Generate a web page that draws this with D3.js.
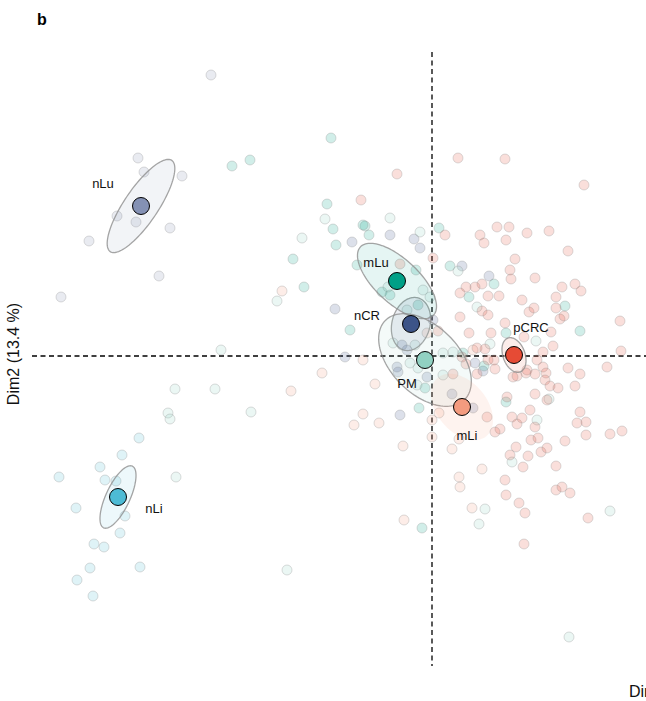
<!DOCTYPE html>
<html>
<head>
<meta charset="utf-8">
<script src="https://cdn.jsdelivr.net/npm/d3@7"></script>
<style>
  body { margin: 0; background: #fff; }
  svg { display: block; font-family: "Liberation Sans", Arial, sans-serif; }
</style>
</head>
<body>
<div id="chart"></div>
<script>
// Groups, in drawing order
var groups = ["nLu", "nCR", "mLu", "PM", "nLi", "mLi", "pCRC"];
var groupColors = ["#8491B4", "#3C5488", "#00A087", "#91D1C2", "#4DBBD5", "#F39B7F", "#E64B35"];

// Individual samples [Dim1, Dim2]
var nLuPts = [[-22.1, 28.1], [-29.4, 19.8], [-28.8, 18.4], [-25.0, 18.0], [-31.5, 14.0], [-29.6, 13.4],
  [-26.2, 12.8], [-34.3, 11.5], [-27.3, 8.0], [-37.1, 5.9]];
var nCRPts = [[-8.0, 11.4], [-4.2, 12.1], [-1.8, 11.7], [-1.2, 10.8], [-9.7, 4.7], [-3.0, 1.1], [-2.5, 0.6],
  [-3.5, -1.1], [-3.4, -1.6], [-3.2, -5.9], [0.1, 3.6], [4.3, -0.7], [4.1, -5.2], [2.0, -3.8], [-8.7, -0.1],
  [5.1, -1.5], [3.0, 9.0], [5.7, 8.0], [-0.5, -2.1]];
var mLuPts = [[-20.0, 19.0], [-18.2, 19.6], [-10.1, 21.8], [-13.9, 9.7], [-12.8, 6.9], [-10.5, 15.2], [-9.9, 12.7],
  [-6.7, 13.0], [-6.3, 12.1], [-9.6, 11.1], [0.7, 12.8], [1.8, 9.0], [6.2, 7.2], [3.7, 5.9], [13.3, 5.0],
  [14.8, 2.5], [7.4, 2.3], [-8.2, 2.6], [-7.5, 9.1], [-1.6, 8.6], [-5.0, 6.4], [-4.2, 6.1], [-1.4, 5.1],
  [3.1, 0.3], [-0.7, -3.2], [-1.3, -5.2], [7.4, -4.6], [-1.0, -17.2], [-6.9, 13.1], [5.2, -1.0]];
var pmPts = [[-13.0, 11.8], [-15.5, 5.5], [-21.1, 0.6], [-10.7, 13.7], [-4.2, 13.8], [-1.2, 12.4], [2.6, 8.5],
  [4.5, 4.9], [5.8, 1.2], [1.1, -1.9], [2.1, 0.4], [10.5, -6.4], [11.7, -4.3], [8.0, -10.6], [5.3, -15.3],
  [4.7, -16.8], [17.8, -15.5], [13.7, -28.1], [-25.7, -3.3], [-21.7, -3.3], [-26.4, -5.7], [-26.2, -6.3],
  [-18.1, -5.6], [-25.6, -12.1], [-14.5, -21.4], [-4.4, 6.9], [-0.2, 5.9], [-0.9, 6.6], [-2.5, 4.6],
  [-3.9, 1.3], [-1.7, 1.1], [-1.4, -1.2], [-1.5, -2.9], [1.1, 0.3], [-2.2, -0.7], [10.4, 1.5]];
var nLiPts = [[-29.3, -8.2], [-31.0, -9.9], [-33.2, -11.1], [-37.3, -12.1], [-32.7, -12.4], [-31.6, -12.5],
  [-35.6, -15.2], [-30.7, -16.0], [-31.2, -17.7], [-33.8, -18.8], [-32.8, -19.1], [-34.2, -21.2],
  [-29.2, -21.1], [-35.5, -22.4], [-33.9, -24.0]];
var mLiPts = [[-15.0, 6.5], [-6.9, -0.4], [-11.0, -1.7], [-14.1, -3.5], [-5.7, -2.8], [-6.9, -5.8], [-7.8, -6.9],
  [-5.3, -6.7], [0.0, -6.4], [0.0, -8.1], [-2.9, -9.0], [2.0, -9.3], [2.7, -8.3], [0.7, -5.7], [5.0, -11.3],
  [2.7, -12.1], [2.8, -13.1], [4.0, -15.2], [-2.8, -16.4], [-0.5, 2.3], [4.1, 0.6]];
var pCRCPts = [[2.6, 19.8], [7.3, 19.7], [-3.5, 18.2], [15.2, 17.1], [-7.1, 15.6], [1.3, 12.1], [4.8, 12.1],
  [5.2, 11.3], [6.5, 12.9], [7.7, 12.9], [9.5, 12.3], [11.7, 12.5], [13.6, 10.5], [8.3, 9.7], [0.1, 9.8],
  [7.8, 8.6], [7.9, 7.7], [10.3, 7.8], [5.0, 7.2], [4.3, 6.9], [3.4, 6.9], [2.8, 6.3], [5.6, 6.0], [6.7, 6.0],
  [9.0, 5.6], [13.0, 6.9], [14.3, 7.2], [14.9, 6.5], [12.4, 5.9], [12.4, 4.8], [9.7, 4.4], [10.2, 4.8],
  [5.0, 4.5], [5.6, 4.1], [2.8, 3.9], [7.3, 3.3], [12.8, 3.7], [13.2, 4.0], [18.8, 3.5], [3.7, 2.3],
  [5.9, 2.3], [11.9, 2.4], [0.6, 2.5], [7.4, 11.6], [-3.2, 9.2], [3.0, -0.1], [4.5, 0.8], [5.3, 0.7],
  [5.6, -0.4], [6.2, -0.4], [6.3, -1.3], [4.5, -1.8], [8.1, -2.1], [8.5, -2.0], [7.5, -4.1], [8.0, -6.1],
  [9.8, -5.4], [8.5, -6.8], [9.5, -1.4], [10.5, -0.4], [11.1, 0.4], [9.2, 1.9], [12.1, 1.0], [11.1, -1.1],
  [11.4, -1.7], [11.3, -2.4], [11.8, -3.0], [12.6, -3.2], [10.3, -3.8], [11.5, -4.4], [14.3, -3.0],
  [13.6, -1.2], [14.8, -1.8], [17.5, -1.1], [18.9, 0.5], [14.8, -5.6], [14.5, -6.7], [15.4, -6.6],
  [19.0, -7.5], [9.4, -1.7], [10.3, -1.8], [3.4, -0.8], [2.1, -1.8], [5.5, -6.1], [6.8, -7.3], [6.3, -7.6],
  [9.0, -6.2], [10.3, -7.1], [9.9, -8.4], [10.6, -8.2], [8.4, -9.1], [7.8, -9.9], [9.6, -10.0], [9.1, -11.1],
  [10.9, -9.6], [11.5, -9.2], [13.3, -8.5], [15.4, -7.9], [17.8, -7.8], [12.4, -11.0], [7.3, -12.4],
  [7.4, -13.9], [8.7, -14.7], [9.3, -15.7], [12.4, -13.4], [13.0, -13.1], [13.8, -13.7], [15.6, -16.2],
  [9.2, -18.8]];
var groupPts = [nLuPts, nCRPts, mLuPts, pmPts, nLiPts, mLiPts, pCRCPts];

// Group centroids [Dim1, Dim2]
var centroids = [[-29.1, 15.0], [-2.1, 3.2], [-3.5, 7.5], [-0.7, -0.4], [-31.4, -14.1], [3.0, -5.1], [8.2, 0.1]];

// Concentration ellipses: semi-axes (Dim units) and rotation (degrees)
var ellipseA = [5.5, 2.7, 5.0, 5.6, 3.4, 3.8, 1.8];
var ellipseB = [1.7, 1.9, 2.2, 3.4, 1.2, 2.5, 1.1];
var ellipseAngle = [56, 75, -43, -45, 65, -50, -70];

var xLabel = "Dim1 (32.6 %)";
var yLabel = "Dim2 (13.4 %)";

// Layout
var width = 646, height = 701;
var xScale = d3.scaleLinear().domain([-43.2, 21.4]).range([0, width]);
var yScale = d3.scaleLinear().domain([-34.5, 35.6]).range([height, 0]);
var panelX = [-40, 25], panelY = [-31, 30.4];

// label offsets in pixels from each centroid
var labelOffsets = [[-38, -23], [-44, -9], [-21, -19], [-18, 23], [36, 11], [5, 28], [17, -28]];

var svg = d3.select("#chart").append("svg")
    .attr("width", width)
    .attr("height", height);

// Zero lines
svg.append("line")
    .attr("x1", xScale(0)).attr("x2", xScale(0))
    .attr("y1", yScale(panelY[1])).attr("y2", yScale(panelY[0]))
    .attr("stroke", "#000").attr("stroke-width", 1.3)
    .attr("stroke-dasharray", "5,3.5");
svg.append("line")
    .attr("x1", xScale(panelX[0])).attr("x2", xScale(panelX[1]))
    .attr("y1", yScale(0)).attr("y2", yScale(0))
    .attr("stroke", "#000").attr("stroke-width", 1.3)
    .attr("stroke-dasharray", "5,3.5");

// Individual points
groups.forEach(function (g, i) {
    svg.append("g").selectAll("circle")
        .data(groupPts[i])
        .enter().append("circle")
        .attr("cx", d => xScale(d[0]))
        .attr("cy", d => yScale(d[1]))
        .attr("r", 5)
        .attr("fill", groupColors[i])
        .attr("fill-opacity", 0.18)
        .attr("stroke", "#8a8a8a")
        .attr("stroke-opacity", 0.3)
        .attr("stroke-width", 1);
});

// Ellipses
var ellipseLine = d3.line()
    .x(d => xScale(d[0]))
    .y(d => yScale(d[1]))
    .curve(d3.curveLinearClosed);

function ellipsePoints(i) {
    var c = centroids[i], a = ellipseA[i], b = ellipseB[i];
    var th = ellipseAngle[i] * Math.PI / 180;
    return d3.range(0, 120).map(function (k) {
        var t = k / 120 * 2 * Math.PI;
        var ex = a * Math.cos(t), ey = b * Math.sin(t);
        return [c[0] + ex * Math.cos(th) - ey * Math.sin(th),
                c[1] + ex * Math.sin(th) + ey * Math.cos(th)];
    });
}

groups.forEach(function (g, i) {
    svg.append("path")
        .attr("d", ellipseLine(ellipsePoints(i)))
        .attr("fill", groupColors[i])
        .attr("fill-opacity", g == "mLi" ? 0.12 : 0.1)
        .attr("stroke", g == "mLi" ? "none" : "#8f8f8f")
        .attr("stroke-opacity", 0.8)
        .attr("stroke-width", 1.3);
});

// Centroids
svg.append("g").selectAll("circle")
    .data(centroids)
    .enter().append("circle")
    .attr("cx", d => xScale(d[0]))
    .attr("cy", d => yScale(d[1]))
    .attr("r", 8.5)
    .attr("fill", (d, i) => groupColors[i])
    .attr("stroke", "#000")
    .attr("stroke-width", 1);

// Group labels
svg.append("g").selectAll("text")
    .data(centroids)
    .enter().append("text")
    .attr("x", (d, i) => xScale(d[0]) + labelOffsets[i][0])
    .attr("y", (d, i) => yScale(d[1]) + labelOffsets[i][1])
    .attr("text-anchor", "middle")
    .attr("dominant-baseline", "central")
    .attr("font-size", 13)
    .attr("fill", "#111")
    .text((d, i) => groups[i]);

// Axis titles
svg.append("text")
    .attr("transform", "translate(19," + (yScale(0) - 2) + ") rotate(-90)")
    .attr("text-anchor", "middle")
    .attr("font-size", 16)
    .attr("fill", "#111")
    .text(yLabel);

svg.append("text")
    .attr("x", 629)
    .attr("y", 697)
    .attr("font-size", 16)
    .attr("fill", "#111")
    .text(xLabel);

// Panel tag
svg.append("text")
    .attr("x", 37)
    .attr("y", 25)
    .attr("font-size", 16)
    .attr("font-weight", "bold")
    .text("b");
</script>
</body>
</html>
